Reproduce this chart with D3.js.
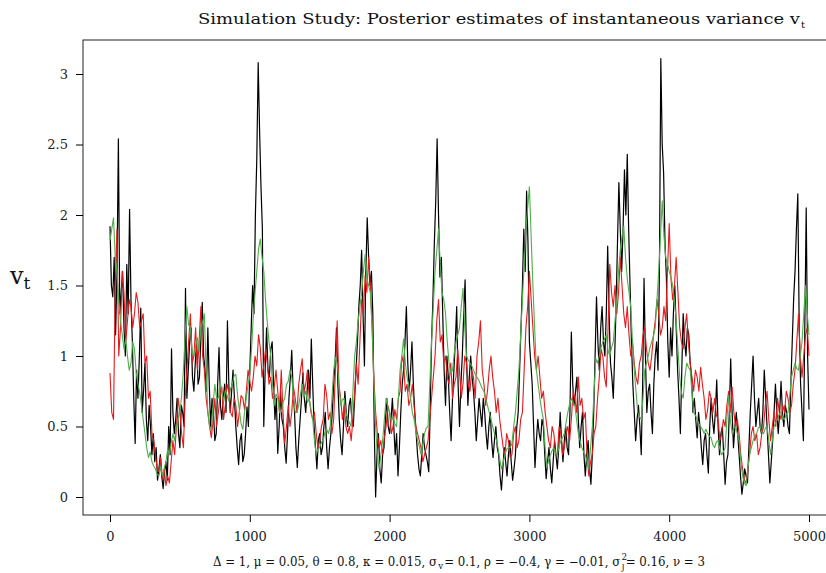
<!DOCTYPE html>
<html>
<head>
<meta charset="utf-8">
<script src="https://cdn.jsdelivr.net/npm/d3@7"></script>
<style>
  body { margin: 0; background: #fff; }
  svg { font-family: "DejaVu Serif", serif; }
</style>
</head>
<body>
<svg id="chart"></svg>
<script>
// black: true v_t (step 10), red / green: posterior estimates (step 12.5)
var blackStep = 10;
var blackVals = [
  1.92, 1.5, 1.42, 1.7, 1.15, 1.6, 2.54, 1.3, 1.45, 1.6, 1.2, 1.0, 1.65, 1.3, 2.04, 1.4, 1.1, 0.7, 0.38, 0.9,
  0.7, 1.0, 1.34, 0.6, 0.75, 0.95, 0.55, 0.4, 0.65, 0.5, 0.3, 0.45, 0.25, 0.35, 0.12, 0.2, 0.3, 0.15, 0.06, 0.18,
  0.25, 0.12, 0.5, 0.3, 1.05, 0.6, 0.45, 0.55, 0.7, 0.45, 0.35, 0.65, 0.6, 0.5, 1.48, 0.7, 0.9, 1.1, 1.2, 0.85,
  0.75, 0.95, 1.1, 0.8, 0.85, 1.15, 1.38, 1.0, 0.9, 0.75, 1.2, 0.8, 0.5, 0.7, 0.6, 0.4, 0.45, 0.8, 1.06, 0.65,
  0.55, 0.7, 0.8, 0.6, 1.25, 0.8, 0.6, 0.75, 0.9, 0.7, 0.5, 0.35, 0.23, 0.4, 0.45, 0.25, 0.3, 0.45, 0.64, 0.5,
  0.9, 1.2, 1.5, 1.3, 2.0, 2.4, 3.08, 2.6, 2.2, 1.9, 0.5, 0.9, 1.2, 0.9, 0.85, 1.05, 1.1, 0.8, 0.55, 0.7,
  0.31, 0.5, 0.75, 0.55, 0.5, 0.35, 0.24, 0.45, 0.7, 0.85, 1.04, 0.75, 0.6, 0.35, 0.21, 0.4, 0.55, 0.7, 0.88, 0.7,
  0.6, 0.75, 0.9, 0.7, 1.12, 0.8, 0.5, 0.35, 0.2, 0.4, 0.45, 0.3, 0.35, 0.5, 0.6, 0.35, 0.2, 0.35, 0.45, 0.6,
  0.8, 0.95, 1.2, 0.8, 0.55, 0.4, 0.3, 0.5, 0.75, 0.6, 0.5, 0.65, 0.7, 0.55, 0.5, 0.7, 0.9, 1.1, 1.35, 1.5,
  1.75, 1.3, 0.93, 1.6, 1.98, 1.7, 1.5, 1.6, 1.3, 0.5, 0.0, 0.3, 0.45, 0.2, 0.1, 0.3, 0.35, 0.55, 0.7, 0.5,
  0.45, 0.55, 0.7, 0.5, 0.3, 0.45, 0.15, 0.35, 0.6, 0.8, 0.9, 1.1, 1.35, 0.95, 0.75, 0.9, 1.1, 0.8, 0.6, 0.45,
  0.3, 0.2, 0.15, 0.3, 0.45, 0.35, 0.3, 0.25, 0.18, 0.6, 1.1, 1.4, 1.8, 2.1, 2.54, 2.0, 1.56, 1.7, 1.3, 0.9,
  0.65, 1.0, 0.85, 0.6, 0.4, 0.7, 0.9, 1.1, 1.35, 0.8, 0.5, 0.8, 1.0, 1.3, 1.54, 1.0, 0.65, 0.85, 1.0, 0.85,
  0.75, 0.6, 0.4, 0.55, 0.7, 0.6, 0.5, 0.7, 0.6, 0.45, 0.34, 0.5, 0.6, 0.4, 0.28, 0.4, 0.5, 0.35, 0.3, 0.15,
  0.05, 0.2, 0.35, 0.25, 0.15, 0.3, 0.4, 0.25, 0.12, 0.2, 0.3, 0.5, 0.6, 0.9, 1.2, 1.5, 1.9, 1.6, 2.17, 1.8,
  1.1, 0.95, 0.8, 0.5, 0.21, 0.4, 0.55, 0.45, 0.4, 0.55, 0.5, 0.3, 0.13, 0.25, 0.35, 0.2, 0.1, 0.25, 0.4, 0.3,
  0.2, 0.35, 0.6, 0.4, 0.25, 0.4, 0.5, 0.35, 0.3, 0.6, 1.17, 0.8, 0.65, 0.75, 0.85, 0.55, 0.35, 0.5, 0.6, 0.3,
  0.15, 0.3, 0.4, 0.2, 0.09, 0.3, 0.6, 1.0, 1.42, 1.1, 0.9, 1.2, 1.35, 1.1, 1.0, 1.3, 1.78, 1.3, 0.95, 0.85,
  0.7, 1.0, 1.35, 1.8, 2.23, 1.9, 1.6, 1.9, 2.32, 2.0, 2.43, 1.9, 1.5, 1.1, 0.8, 0.6, 0.4, 0.55, 0.65, 0.5,
  0.3, 0.8, 1.55, 1.0, 0.6, 0.75, 0.8, 0.6, 0.45, 0.8, 1.0, 1.1, 0.9, 1.6, 3.11, 2.5, 2.3, 1.8, 1.55, 1.1,
  0.85, 1.2, 1.0, 1.3, 1.5, 1.2, 0.9, 0.7, 0.45, 0.9, 1.3, 1.1, 1.0, 1.2, 1.15, 0.95, 0.85, 0.6, 0.7, 0.55,
  0.42, 0.6, 0.5, 0.35, 0.23, 0.4, 0.45, 0.3, 0.17, 0.5, 0.7, 0.55, 0.45, 0.6, 0.83, 0.5, 0.3, 0.45, 0.5, 0.3,
  0.09, 0.25, 0.3, 0.6, 0.98, 0.6, 0.35, 0.5, 0.6, 0.45, 0.3, 0.15, 0.02, 0.1, 0.2, 0.15, 0.1, 0.35, 0.6, 0.8,
  1.0, 0.7, 0.5, 0.6, 0.7, 0.5, 0.45, 0.6, 0.9, 0.7, 0.5, 0.3, 0.1, 0.25, 0.4, 0.6, 0.8, 0.6, 0.45, 0.6,
  0.82, 0.6, 0.5, 0.65, 0.6, 0.5, 0.45, 0.8, 1.1, 1.4, 1.6, 1.9, 2.15, 1.2, 0.8, 0.6, 0.4, 1.2, 2.05, 1.0,
  0.62
];

var estStep = 12.5;
var redVals = [
  0.88, 0.6, 0.55, 1.5, 1.9, 1.0, 1.2, 1.6, 1.45, 1.1, 1.25, 1.4, 1.35, 1.2, 1.3, 1.45, 1.38, 1.2, 1.25, 1.3,
  0.95, 1.0, 0.7, 0.75, 0.45, 0.4, 0.3, 0.2, 0.18, 0.28, 0.13, 0.2, 0.08, 0.15, 0.1, 0.25, 0.4, 0.3, 0.5, 0.7,
  0.6, 0.45, 0.35, 0.7, 0.9, 1.1, 1.3, 0.95, 1.0, 1.2, 0.9, 1.1, 1.35, 1.0, 0.9, 0.7, 0.6, 0.5, 0.42, 0.55,
  0.7, 0.5, 0.6, 0.72, 0.78, 0.55, 0.65, 0.8, 0.75, 0.6, 0.57, 0.7, 0.65, 0.5, 0.6, 0.72, 0.7, 0.62, 0.75, 0.9,
  0.82, 0.75, 0.85, 1.0, 0.93, 1.15, 1.06, 0.85, 0.93, 1.05, 0.95, 0.8, 0.85, 0.7, 0.78, 0.9, 0.75, 0.6, 0.9, 0.6,
  0.38, 0.5, 0.65, 0.5, 0.6, 0.78, 0.7, 0.6, 0.8, 0.9, 0.98, 0.75, 0.8, 0.9, 0.7, 0.6, 0.55, 0.6, 0.45, 0.35,
  0.4, 0.5, 0.55, 0.8, 0.72, 0.55, 0.6, 0.45, 0.55, 0.9, 1.25, 0.8, 0.7, 0.55, 0.65, 0.5, 0.45, 0.5, 0.4, 0.55,
  0.75, 0.95, 0.8, 1.1, 1.4, 1.3, 1.57, 1.45, 1.7, 1.5, 1.2, 0.85, 0.6, 0.45, 0.35, 0.4, 0.3, 0.42, 0.5, 0.65,
  0.6, 0.45, 0.5, 0.62, 0.55, 0.7, 0.75, 1.0, 0.95, 0.75, 0.8, 0.65, 0.7, 0.8, 0.65, 0.5, 0.45, 0.4, 0.35, 0.25,
  0.3, 0.35, 0.4, 0.55, 0.7, 0.85, 1.0, 1.25, 1.4, 1.1, 1.15, 0.95, 1.0, 0.85, 0.8, 0.95, 0.7, 0.8, 0.85, 1.05,
  0.9, 0.7, 0.8, 1.0, 0.95, 0.8, 0.75, 0.9, 0.85, 0.7, 1.0, 1.1, 1.25, 0.9, 0.8, 0.65, 0.75, 0.9, 1.0, 0.85,
  0.75, 0.6, 0.7, 0.55, 0.45, 0.35, 0.3, 0.45, 0.4, 0.28, 0.3, 0.45, 0.5, 0.35, 0.4, 0.55, 0.6, 0.9, 1.2, 1.35,
  1.6, 1.4, 1.2, 1.0, 0.9, 1.0, 0.85, 0.7, 0.75, 0.6, 0.5, 0.4, 0.35, 0.5, 0.45, 0.3, 0.3, 0.5, 0.45, 0.3,
  0.35, 0.45, 0.5, 0.4, 0.55, 0.75, 0.7, 0.6, 0.85, 0.65, 0.7, 0.55, 0.6, 0.3, 0.15, 0.25, 0.3, 0.45, 0.5, 0.7,
  0.85, 1.05, 1.0, 0.85, 0.78, 1.2, 1.65, 1.45, 1.35, 1.5, 1.3, 1.45, 1.7, 1.5, 1.3, 1.2, 1.35, 1.15, 1.0, 1.1,
  0.95, 0.85, 0.8, 0.95, 1.0, 1.15, 1.2, 1.05, 0.95, 0.9, 1.0, 1.15, 1.25, 1.4, 1.3, 1.15, 1.2, 1.35, 1.25, 1.6,
  1.94, 1.55, 1.4, 1.5, 1.7, 1.45, 1.2, 1.1, 1.05, 1.2, 1.3, 1.1, 0.95, 0.85, 0.75, 0.9, 0.85, 0.75, 0.92, 0.8,
  0.7, 0.55, 0.62, 0.75, 0.7, 0.6, 0.7, 0.58, 0.55, 0.4, 0.45, 0.55, 0.5, 0.65, 0.75, 0.6, 0.78, 0.6, 0.5, 0.55,
  0.45, 0.3, 0.2, 0.12, 0.1, 0.2, 0.3, 0.45, 0.5, 0.4, 0.45, 0.3, 0.35, 0.45, 0.5, 0.65, 0.75, 0.55, 0.4, 0.5,
  0.6, 0.5, 0.7, 0.6, 0.55, 0.65, 0.6, 0.75, 0.7, 0.6, 0.65, 0.8, 0.9, 1.1, 1.3, 1.0, 0.85, 1.0, 1.15, 1.2,
  1.0
];

var greenVals = [
  1.82, 1.9, 1.98, 1.7, 1.6, 1.4, 1.25, 1.15, 1.05, 1.12, 1.0, 0.9, 0.95, 1.1, 1.05, 0.88, 0.8, 0.74, 0.65, 0.55,
  0.45, 0.35, 0.28, 0.32, 0.25, 0.22, 0.2, 0.16, 0.15, 0.21, 0.15, 0.2, 0.25, 0.34, 0.3, 0.38, 0.45, 0.4, 0.5, 0.56,
  0.6, 0.72, 0.9, 1.15, 1.35, 1.22, 1.2, 1.02, 1.0, 1.07, 1.13, 1.03, 1.2, 1.24, 1.3, 0.9, 0.6, 0.5, 0.47, 0.66,
  0.8, 0.7, 0.7, 0.82, 0.75, 0.68, 0.76, 0.72, 0.68, 0.77, 0.8, 0.86, 0.87, 0.72, 0.62, 0.52, 0.48, 0.6, 0.7, 0.8,
  0.87, 1.05, 1.28, 1.45, 1.6, 1.76, 1.83, 1.7, 1.6, 1.4, 1.24, 1.1, 1.0, 0.8, 0.65, 0.73, 0.7, 0.6, 0.6, 0.67,
  0.7, 0.8, 0.82, 0.9, 0.85, 0.7, 0.6, 0.6, 0.65, 0.73, 0.8, 0.71, 0.75, 0.67, 0.7, 0.62, 0.55, 0.4, 0.3, 0.34,
  0.35, 0.39, 0.4, 0.46, 0.48, 0.45, 0.5, 0.7, 0.9, 0.99, 0.95, 0.8, 0.65, 0.69, 0.7, 0.6, 0.55, 0.53, 0.5, 0.75,
  1.0, 1.1, 1.25, 1.35, 1.45, 1.6, 1.72, 1.55, 1.5, 1.45, 1.2, 0.8, 0.5, 0.3, 0.2, 0.3, 0.4, 0.55, 0.7, 0.64,
  0.6, 0.54, 0.57, 0.52, 0.5, 0.7, 0.9, 1.0, 1.12, 0.95, 0.85, 0.79, 0.7, 0.6, 0.55, 0.47, 0.4, 0.36, 0.3, 0.38,
  0.45, 0.49, 0.5, 0.8, 1.1, 1.35, 1.6, 1.75, 1.9, 1.65, 1.45, 1.4, 1.3, 1.1, 0.95, 0.88, 0.9, 1.02, 1.1, 1.15,
  1.2, 1.35, 1.48, 1.2, 1.0, 0.97, 0.95, 0.93, 0.9, 0.87, 0.85, 0.83, 0.8, 0.77, 0.75, 0.7, 0.65, 0.6, 0.55, 0.5,
  0.45, 0.41, 0.35, 0.27, 0.2, 0.25, 0.3, 0.34, 0.35, 0.35, 0.38, 0.5, 0.6, 0.75, 0.9, 1.15, 1.4, 1.65, 1.9, 2.05,
  2.2, 1.85, 1.5, 1.2, 0.9, 0.8, 0.7, 0.62, 0.55, 0.35, 0.21, 0.26, 0.3, 0.33, 0.35, 0.31, 0.3, 0.36, 0.4, 0.42,
  0.45, 0.53, 0.6, 0.66, 0.7, 0.67, 0.65, 0.55, 0.45, 0.4, 0.35, 0.32, 0.3, 0.25, 0.2, 0.35, 0.5, 0.75, 0.98, 0.95,
  1.0, 1.06, 1.1, 1.12, 1.15, 1.04, 1.0, 1.06, 1.1, 1.25, 1.4, 1.6, 1.75, 1.85, 1.92, 1.7, 1.55, 1.45, 1.35, 1.1,
  0.9, 0.75, 0.6, 0.57, 0.55, 0.7, 0.9, 0.95, 1.0, 1.06, 1.1, 1.14, 1.2, 1.4, 1.6, 1.85, 2.1, 1.85, 1.7, 1.65,
  1.6, 1.56, 1.5, 1.4, 1.25, 1.05, 0.85, 0.74, 0.7, 0.85, 0.95, 0.92, 0.9, 0.75, 0.6, 0.58, 0.55, 0.52, 0.5, 0.48,
  0.45, 0.48, 0.45, 0.43, 0.42, 0.37, 0.35, 0.39, 0.4, 0.34, 0.3, 0.32, 0.35, 0.55, 0.72, 0.55, 0.45, 0.49, 0.5, 0.45,
  0.4, 0.25, 0.15, 0.1, 0.08, 0.2, 0.3, 0.35, 0.4, 0.43, 0.45, 0.49, 0.5, 0.46, 0.45, 0.49, 0.5, 0.4, 0.3, 0.4,
  0.5, 0.53, 0.55, 0.59, 0.6, 0.56, 0.55, 0.59, 0.6, 0.72, 0.85, 0.9, 0.95, 0.91, 0.9, 1.0, 1.1, 1.3, 1.5, 1.3,
  1.15
];

var xTicks = [0, 1000, 2000, 3000, 4000, 5000];
var yTicks = [0, 0.5, 1, 1.5, 2, 2.5, 3];

var width = 826, height = 573;
var box = { left: 83, top: 40, right: 830, bottom: 515 };

var svg = d3.select("#chart").attr("width", width).attr("height", height);

var x = d3.scaleLinear().domain([0, 5000]).range([110, 809]);
var y = d3.scaleLinear().domain([0, 3]).range([497, 74]);

// turn value arrays into points
function toPoints(vals, step) {
  return vals.map((v, i) => ({ t: i * step, v: v }));
}

var line = d3.line().x((d) => x(d.t)).y((d) => y(d.v));

var series = [
  { vals: blackVals, step: blackStep, color: "#000000", w: 1.2 },
  { vals: redVals, step: estStep, color: "#E41A1C", w: 1.1 },
  { vals: greenVals, step: estStep, color: "#4DAF4A", w: 1.1 },
];
svg.append("g")
  .selectAll("path")
  .data(series)
  .enter()
  .append("path")
  .attr("d", (d) => line(toPoints(d.vals, d.step)))
  .attr("fill", "none")
  .attr("stroke", (d) => d.color)
  .attr("stroke-width", (d) => d.w)
  .attr("stroke-linejoin", "round");

// plot box
svg.append("rect")
  .attr("x", box.left)
  .attr("y", box.top)
  .attr("width", box.right - box.left)
  .attr("height", box.bottom - box.top)
  .attr("fill", "none")
  .attr("stroke", "#222")
  .attr("stroke-width", 1);

// axes
var xAxis = d3.axisBottom(x).tickValues(xTicks).tickSize(7).tickPadding(10).tickFormat(d3.format("d"));
svg.append("g")
  .attr("transform", `translate(0,${box.bottom})`)
  .call(xAxis)
  .call((a) => a.select(".domain").remove())
  .call((a) => a.selectAll("text").attr("font-family", "DejaVu Serif").attr("font-size", 13).attr("fill", "#222"));

var yAxis = d3.axisLeft(y).tickValues(yTicks).tickSize(7).tickPadding(8).tickFormat((d) => String(d));
svg.append("g")
  .attr("transform", `translate(${box.left},0)`)
  .call(yAxis)
  .call((a) => a.select(".domain").remove())
  .call((a) => a.selectAll("text").attr("font-family", "DejaVu Serif").attr("font-size", 13).attr("fill", "#222"));

// title (wide serif face in the original, so stretch to its width)
svg.append("text")
  .attr("x", 198)
  .attr("y", 24)
  .attr("font-size", 14)
  .attr("fill", "#111")
  .attr("textLength", 602)
  .attr("lengthAdjust", "spacingAndGlyphs")
  .text("Simulation Study: Posterior estimates of instantaneous variance v");
svg.append("text")
  .attr("x", 801)
  .attr("y", 28)
  .attr("font-size", 10)
  .attr("fill", "#111")
  .text("t");

// y label
var ylab = svg.append("text").attr("x", 10).attr("y", 284).attr("font-size", 24).attr("fill", "#111");
ylab.append("tspan").text("v");
ylab.append("tspan").attr("font-size", 17).attr("dy", 5).text("t");

// parameter line, built piece by piece then squeezed to the original width
var subG = svg.append("g");
var pieces = [
  { s: "Δ = 1, μ = 0.05, θ = 0.8, κ = 0.015, σ", size: 12, dy: 0 },
  { s: "v", size: 9, dy: 3 },
  { s: " = 0.1, ρ = −0.4, γ = −0.01, σ", size: 12, dy: 0 },
  { s: "2", size: 9, dy: -6, stack: true },
  { s: "J", size: 8, dy: 4 },
  { s: " = 0.16, ν = 3", size: 12, dy: 0 },
];
var cx = 0;
pieces.forEach((p) => {
  var t = subG.append("text")
    .attr("x", cx)
    .attr("y", 566 + p.dy)
    .attr("font-size", p.size)
    .attr("fill", "#111")
    .text(p.s);
  var w = t.node().getComputedTextLength();
  if (!p.stack) cx += w + 1;
});
var subScale = 493 / cx;
subG.attr("transform", `translate(213,0) scale(${subScale},1)`);
</script>
</body>
</html>
